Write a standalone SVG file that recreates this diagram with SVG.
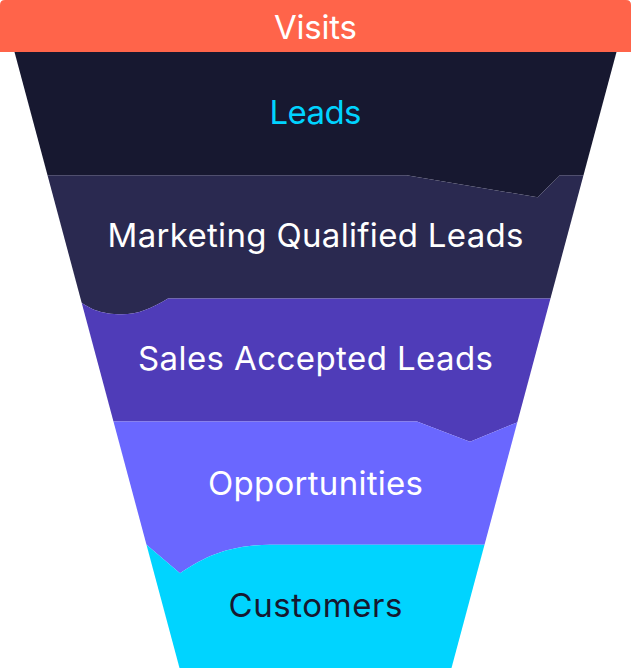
<svg xmlns="http://www.w3.org/2000/svg" width="631" height="668" viewBox="0 0 631 668">
<style>
text{font-family:Inter,"Liberation Sans",Arial,sans-serif;font-size:33px;text-anchor:middle;}
.w{fill:#FFFFFF;}
</style>
<defs>
<clipPath id="funnel"><path d="M14.5,52 H616.5 L451.5,668 H179.5 Z"/></clipPath>
</defs>
<g id="visits">
<path d="M0,52 V5 Q0,0 5,0 H626 Q631,0 631,5 V52 Z" fill="#FF644A"/>
<text class="w" x="315.5" y="38.5" textLength="83" lengthAdjust="spacing">Visits</text>
</g>
<g clip-path="url(#funnel)">
<g id="leads">
<path d="M0,50 H631 V175.2 H560 L537.5,197.3 L406.5,175.2 H0 Z" fill="#171830"/>
<text x="315.5" y="124.3" fill="#00D3FF" textLength="92" lengthAdjust="spacing">Leads</text>
</g>
<g id="mql">
<path d="M0,175.2 H406.5 L537.5,197.3 L560,175.2 H631 V298.4 H168 C152,308 138,314.3 122,314.3 C100,314.3 88,308 78,300 L0,300 Z" fill="#2A2950"/>
<text class="w" x="315.5" y="247.3" textLength="416" lengthAdjust="spacing">Marketing Qualified Leads</text>
</g>
<g id="sal">
<path d="M0,300 L78,300 C88,308 100,314.3 122,314.3 C138,314.3 152,308 168,298.4 H631 V421.6 H520 L517,422.4 L470,441.7 L417,421.6 H0 Z" fill="#4F3CB8"/>
<text class="w" x="315.5" y="370.3" textLength="355" lengthAdjust="spacing">Sales Accepted Leads</text>
</g>
<g id="opportunities">
<path d="M0,421.6 H417 L470,441.7 L517,422.4 L520,421.6 H631 V544.8 H270 C225,545 200,560 180,573.3 L146.5,544.8 H0 Z" fill="#6A67FF"/>
<text class="w" x="315.5" y="494.5" textLength="215" lengthAdjust="spacing">Opportunities</text>
</g>
<g id="customers">
<path d="M0,544.8 H146.5 L180,573.3 C200,560 225,545 270,544.8 H631 V670 H0 Z" fill="#00D4FF"/>
<text x="315.5" y="617.4" fill="#171830" textLength="174" lengthAdjust="spacing">Customers</text>
</g>
</g>
<g id="connectors"/>
</svg>
